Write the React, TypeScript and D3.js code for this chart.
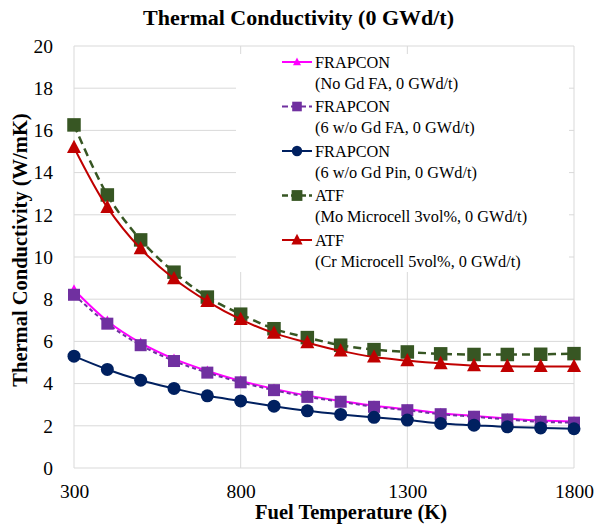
import React, { useEffect, useRef } from 'react';
import * as d3 from 'd3';

// fuel temperature (K)
const temps = [300, 400, 500, 600, 700, 800, 900, 1000, 1100, 1200, 1300, 1400, 1500, 1600, 1700, 1800];

// thermal conductivity (W/mK)
const noGdFA = [8.45, 6.97, 5.93, 5.17, 4.6, 4.13, 3.75, 3.43, 3.18, 2.95, 2.78, 2.6, 2.47, 2.35, 2.25, 2.2];
const gdFA = [8.21, 6.84, 5.82, 5.07, 4.52, 4.06, 3.69, 3.37, 3.14, 2.9, 2.74, 2.55, 2.43, 2.3, 2.19, 2.15];
const gdPin = [5.3, 4.67, 4.16, 3.77, 3.42, 3.18, 2.93, 2.71, 2.54, 2.4, 2.27, 2.11, 2.03, 1.95, 1.9, 1.86];
const moMicrocell = [16.26, 12.94, 10.81, 9.28, 8.1, 7.29, 6.6, 6.18, 5.82, 5.61, 5.5, 5.41, 5.38, 5.38, 5.39, 5.42];
const crMicrocell = [15.19, 12.35, 10.39, 8.97, 7.9, 7.04, 6.39, 5.94, 5.55, 5.26, 5.09, 4.95, 4.85, 4.82, 4.81, 4.81];

const xTicks = [300, 800, 1300, 1800];
const yTicks = [0, 2, 4, 6, 8, 10, 12, 14, 16, 18, 20];

type Marker = 'triangle' | 'square' | 'circle';

interface Series {
  name: string;
  sub: string;
  values: number[];
  color: string;
  dash: string | null;
  marker: Marker;
  size: number;
  width: number;
}

const series: Series[] = [
  { name: 'FRAPCON', sub: '(No Gd FA, 0 GWd/t)', values: noGdFA, color: '#ff00ff', dash: null, marker: 'triangle', size: 10, width: 2 },
  { name: 'FRAPCON', sub: '(6 w/o Gd FA, 0 GWd/t)', values: gdFA, color: '#7030a0', dash: '4,3', marker: 'square', size: 12, width: 2 },
  { name: 'FRAPCON', sub: '(6 w/o Gd Pin, 0 GWd/t)', values: gdPin, color: '#002060', dash: null, marker: 'circle', size: 13, width: 2 },
  { name: 'ATF', sub: '(Mo Microcell 3vol%, 0 GWd/t)', values: moMicrocell, color: '#375623', dash: '8,5', marker: 'square', size: 13.5, width: 2.5 },
  { name: 'ATF', sub: '(Cr Microcell 5vol%, 0 GWd/t)', values: crMicrocell, color: '#c00000', dash: null, marker: 'triangle', size: 14, width: 2 },
];

const width = 597;
const height = 525;
const margin = { top: 46, right: 23, bottom: 57, left: 74 };
const serif = '"Liberation Serif", serif';

function drawMarker(g: d3.Selection<SVGGElement, unknown, null, undefined>, s: Series, x: number, y: number) {
  const h = s.size / 2;
  if (s.marker === 'circle') {
    g.append('circle').attr('cx', x).attr('cy', y).attr('r', h).attr('fill', s.color);
  } else if (s.marker === 'square') {
    g.append('rect').attr('x', x - h).attr('y', y - h).attr('width', s.size).attr('height', s.size).attr('fill', s.color);
  } else {
    g.append('path')
      .attr('d', `M${x},${y - h * 1.1}L${x + h},${y + h * 0.8}L${x - h},${y + h * 0.8}Z`)
      .attr('fill', s.color);
  }
}

export default function App() {
  const ref = useRef<SVGSVGElement>(null);

  useEffect(() => {
    const svg = d3.select(ref.current);
    svg.selectAll('*').remove();

    const innerW = width - margin.left - margin.right;
    const innerH = height - margin.top - margin.bottom;

    const x = d3.scaleLinear().domain([300, 1800]).range([margin.left, margin.left + innerW]);
    const y = d3.scaleLinear().domain([0, 20]).range([margin.top + innerH, margin.top]);

    svg.append('rect').attr('width', width).attr('height', height).attr('fill', '#fff');

    // Gridlines
    const grid = svg.append('g');
    grid.selectAll('line.h')
      .data(yTicks)
      .join('line')
      .attr('class', 'h')
      .attr('x1', x(300)).attr('x2', x(1800))
      .attr('y1', (d) => y(d)).attr('y2', (d) => y(d))
      .attr('stroke', '#d9d9d9').attr('stroke-width', 1);
    grid.selectAll('line.v')
      .data(xTicks)
      .join('line')
      .attr('class', 'v')
      .attr('x1', (d) => x(d)).attr('x2', (d) => x(d))
      .attr('y1', y(0)).attr('y2', y(20))
      .attr('stroke', '#d9d9d9').attr('stroke-width', 1);

    // Legend background sits inside the plot and hides the grid
    svg.append('rect').attr('x', 236).attr('y', 54).attr('width', 333).attr('height', 218).attr('fill', '#fff');

    // Axes
    const xAxis = svg.append('g')
      .attr('transform', `translate(0,${y(0)})`)
      .call(d3.axisBottom(x).tickValues(xTicks).tickSize(0).tickPadding(16).tickFormat(d3.format('d')));
    xAxis.select('.domain').remove();
    const yAxis = svg.append('g')
      .attr('transform', `translate(${x(300)},0)`)
      .call(d3.axisLeft(y).tickValues(yTicks).tickSize(0).tickPadding(21).tickFormat(d3.format('d')));
    yAxis.select('.domain').remove();
    svg.selectAll('.tick text').style('font-family', serif).style('font-size', '19.5px').attr('fill', '#000');

    // Series
    const line = d3.line<number>()
      .x((_, i) => x(temps[i]))
      .y((d) => y(d))
      .curve(d3.curveCatmullRom);

    series.forEach((s) => {
      const g = svg.append('g');
      g.append('path')
        .attr('d', line(s.values))
        .attr('fill', 'none')
        .attr('stroke', s.color)
        .attr('stroke-width', s.width)
        .attr('stroke-dasharray', s.dash);
      s.values.forEach((v, i) => drawMarker(g, s, x(temps[i]), y(v)));
    });

    // Legend
    const legend = svg.append('g').style('font-family', serif).style('font-size', '16.3px');
    series.forEach((s, i) => {
      const cy = 62 + i * 44.5;
      const row = legend.append('g');
      row.append('line')
        .attr('x1', 282).attr('x2', 312).attr('y1', cy).attr('y2', cy)
        .attr('stroke', s.color).attr('stroke-width', s.width)
        .attr('stroke-dasharray', s.dash ? '6,3' : null);
      drawMarker(row, { ...s, size: s.size * 0.8 }, 297, cy);
      row.append('text').attr('x', 315).attr('y', cy + 5.5).text(s.name);
      row.append('text').attr('x', 315).attr('y', cy + 26.5).text(s.sub);
    });

    // Titles
    svg.append('text')
      .attr('x', width / 2).attr('y', 25)
      .attr('text-anchor', 'middle')
      .style('font-family', serif).style('font-weight', 'bold').style('font-size', '22px')
      .text('Thermal Conductivity (0 GWd/t)');

    svg.append('text')
      .attr('x', 351).attr('y', 519)
      .attr('text-anchor', 'middle')
      .style('font-family', serif).style('font-weight', 'bold').style('font-size', '20.5px')
      .text('Fuel Temperature (K)');

    svg.append('text')
      .attr('transform', 'translate(27,250) rotate(-90)')
      .attr('text-anchor', 'middle')
      .style('font-family', serif).style('font-weight', 'bold').style('font-size', '20.5px')
      .text('Thermal Conductivity (W/mK)');
  }, []);

  return (
    <svg ref={ref} width={width} height={height} style={{ position: 'absolute', left: 0, top: 0 }} />
  );
}
